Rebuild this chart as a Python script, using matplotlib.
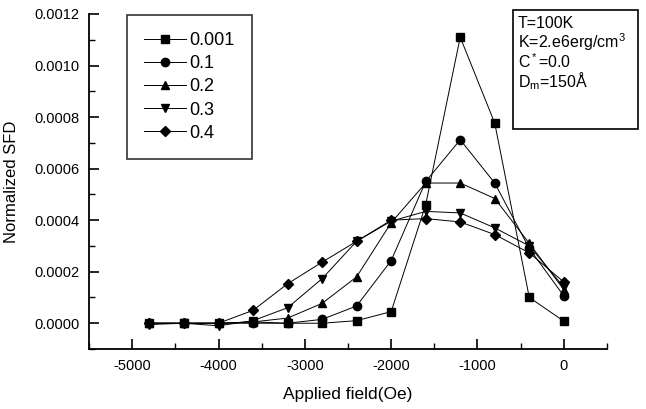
import matplotlib.pyplot as plt
from matplotlib.patches import Rectangle
from matplotlib.ticker import MultipleLocator

plt.rcParams["font.family"] = ["Liberation Sans", "DejaVu Sans"]
plt.rcParams["mathtext.fontset"] = "custom"
plt.rcParams["mathtext.rm"] = "Liberation Sans"
plt.rcParams["mathtext.it"] = "Liberation Sans"
plt.rcParams["axes.unicode_minus"] = False

field = [-4800, -4400, -4000, -3600, -3200, -2800, -2400, -2000, -1600, -1200, -800, -400, 0]

sfd_0001 = [0.0, 0.0, 0.0, 0.000005, 0.0, 0.0, 0.00001, 0.000045, 0.00046, 0.00111, 0.000776, 0.0001, 0.000008]
sfd_01 = [0.0, 0.0, 0.0, 0.0, 0.0, 0.000015, 0.000067, 0.000243, 0.00055, 0.000712, 0.000544, 0.00029, 0.000106]
sfd_02 = [0.0, 0.0, 0.0, 0.000005, 0.00002, 0.000077, 0.00018, 0.00039, 0.000544, 0.000544, 0.000484, 0.00031, 0.00013]
sfd_03 = [-0.000005, 0.0, -0.00001, 0.00001, 0.00006, 0.000173, 0.000318, 0.000396, 0.000434, 0.000428, 0.00037, 0.0003, 0.00014]
sfd_04 = [0.0, 0.0, 0.0, 0.00005, 0.000153, 0.000237, 0.000318, 0.0004, 0.000406, 0.000393, 0.000344, 0.000273, 0.00016]

series = [sfd_0001, sfd_01, sfd_02, sfd_03, sfd_04]
labels = ["0.001", "0.1", "0.2", "0.3", "0.4"]
markers = ["s", "o", "^", "v", "D"]

fig = plt.figure(figsize=(6.46, 4.09), dpi=100)
ax = fig.add_axes([0.1378, 0.1467, 0.8018, 0.8191])

for vals, lab, mk in zip(series, labels, markers):
    ms = 5.5 if mk == "D" else 6
    ax.plot(field, vals, color="black", lw=0.7, marker=mk, ms=ms, label=lab)

ax.set_xlim(-5500, 500)
ax.set_ylim(-0.0001, 0.0012)
ax.set_xticks(range(-5000, 1, 1000))
ax.xaxis.set_minor_locator(MultipleLocator(500))
ax.set_yticks([0.0, 0.0002, 0.0004, 0.0006, 0.0008, 0.0010, 0.0012])
ax.set_yticklabels(["0.0000", "0.0002", "0.0004", "0.0006", "0.0008", "0.0010", "0.0012"])
ax.yaxis.set_minor_locator(MultipleLocator(0.0001))

ax.spines["top"].set_visible(False)
ax.spines["right"].set_visible(False)
for s in ["left", "bottom"]:
    ax.spines[s].set_linewidth(1.3)
ax.tick_params(which="major", direction="in", length=7, width=1.2, labelsize=10.5, pad=7)
ax.tick_params(which="minor", direction="in", length=4, width=1.0)

ax.set_xlabel("Applied field(Oe)", fontsize=12.5, labelpad=10)
ax.set_ylabel("Normalized SFD", fontsize=12, labelpad=11)

leg = ax.legend(loc="upper left", bbox_to_anchor=(127 / 646, 1 - 15 / 409),
                bbox_transform=fig.transFigure, fontsize=13, frameon=True,
                fancybox=False, borderpad=0.95, labelspacing=0.34,
                handlelength=2.3, handletextpad=0.2, borderaxespad=0)
leg.get_frame().set_edgecolor("black")
leg.get_frame().set_linewidth(1.2)

# parameter box in the upper right corner
fig.patches.append(Rectangle((513 / 646, 1 - 129 / 409), 125 / 646, 119 / 409,
                             transform=fig.transFigure, fill=False,
                             edgecolor="black", lw=1.2))
params = ["T=100K", "K=2.e6erg/cm$^3$", "C$^*$=0.0", "D$_\\mathrm{m}$=150Å"]
for i, txt in enumerate(params):
    fig.text(518 / 646, 1 - (23 + 19.3 * i) / 409, txt, fontsize=11.5, va="center", ha="left")

fig.savefig("out.png", dpi=100)
